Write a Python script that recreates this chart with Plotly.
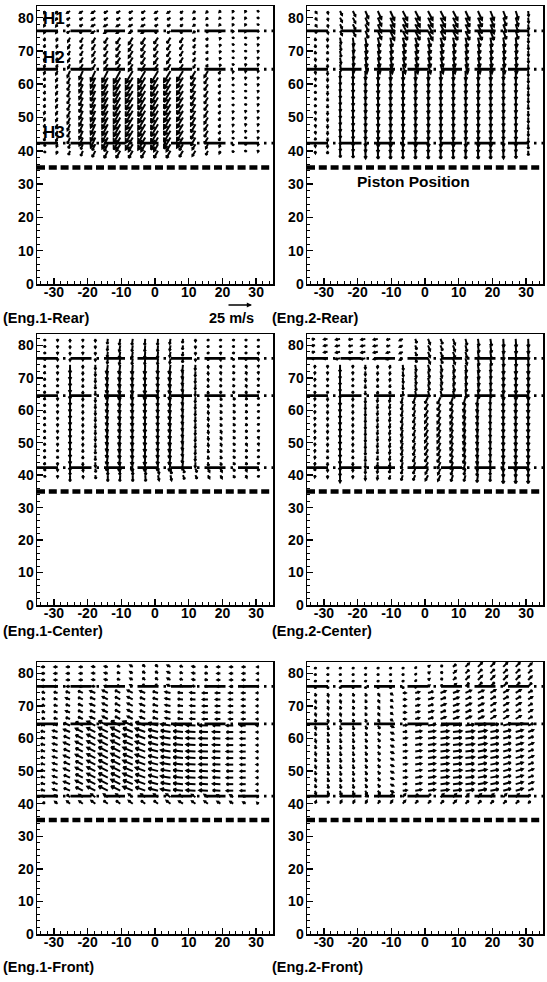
import math
import plotly.graph_objects as go

# ---------------- data ----------------
X_TICKS = [-30, -20, -10, 0, 10, 20, 30]
Y_TICKS = [0, 10, 20, 30, 40, 50, 60, 70, 80]
X_RANGE = [-35, 35]
Y_RANGE = [0, 83.5]

# measurement grid (mm)
COL_X = [-32.6, -28.9, -25.2, -21.4, -17.7, -14.0, -10.3, -6.6, -2.9,
         0.9, 4.6, 8.3, 12.0, 15.7, 19.4, 23.2, 26.9, 30.6]
ROW_Y = [40, 42, 44, 46, 48, 50, 52, 54, 56, 58, 60, 62, 64, 66, 68, 70,
         72, 74, 76, 78, 80, 82]
# lower bound of the four height bands (top band first)
BAND_LOWER = [76, 66, 44, 0]

H_LEVELS = [76.0, 64.5, 42.3]
H_NAMES = ["H1", "H2", "H3"]
H_LABEL_Y = [79.7, 68.0, 45.6]
PISTON_Y = 35.0
SCALE_MS = 25

PANEL_NAMES = ["(Eng.1-Rear)", "(Eng.2-Rear)", "(Eng.1-Center)",
               "(Eng.2-Center)", "(Eng.1-Front)", "(Eng.2-Front)"]

# velocity components (m/s), one list per band (top, upper, middle, bottom), one value per column
E1_REAR_U = [
    [-1, -1.5, -3, -3, -3.5, -3.5, -3.5, -3.5, -3.5, -3, -3, -2.5, -2, -1.5, -1, -0.5, -0.5, -0.3],
    [-1, -1, -2, -2.5, -3, -3.5, -4, -4, -4, -4, -3.5, -3, -2, -1.5, -0.5, -0.3, -0.2, -0.2],
    [-1, -1.5, -2.5, -3.5, -4.5, -5.5, -6.5, -7, -7, -7, -6.5, -6, -4.5, -3.5, -1.5, -0.3, -0.2, -0.2],
    [-0.5, -1, -1.5, -2, -3, -3.5, -4, -4, -4, -4, -4, -3.5, -3, -2, -1, -0.3, -0.2, -0.2]]
E1_REAR_V = [
    [-2, -2, -2, -2, -2, -2, -2, -2, -2, -2, -2, -2, -1.5, -1.5, -1, -1, -1, -1],
    [-3, -3, -4, -4.5, -5, -5.5, -6, -6.5, -6.5, -6, -5.5, -5, -3.5, -2.5, -1.5, -1, -1, -1],
    [-3, -3.5, -6, -8, -10, -11, -12, -12, -12, -12, -11, -10, -8, -6, -3, -1.5, -1, -1],
    [-2, -2.5, -4, -5, -6, -7, -7, -7, -7, -7, -7, -6, -5, -4, -2.5, -1.5, -1, -1]]

E2_REAR_U = [
    [1.5, 0.5, 2, 2.5, 3, 3.5, 4, 4.5, 4.5, 4.5, 4.5, 4.5, 4, 4, 3.5, 3, 2.5, 0.5],
    [0.5, 0, 1, 1, 1.5, 2, 2, 2.5, 2.5, 2.5, 2.5, 2, 2, 2, 1.5, 1.5, 1, 0.3],
    [0.5, 0, 0.3, 0.3, 0.3, 0.5, 0.5, 0.5, 0.5, 0.5, 0.5, 0.5, 0.5, 0.5, 0.5, 0.3, 0.3, 0.2],
    [0.3, 0, 0.3, 0.3, 0.3, 0.3, 0.3, 0.3, 0.3, 0.3, 0.3, 0.3, 0.3, 0.3, 0.3, 0.3, 0.3, 0.2]]
E2_REAR_V = [
    [-2, -2.5, -4, -5, -7, -8, -9, -9, -9, -9, -9, -9, -9, -9, -9, -8, -8, -5],
    [-3, -3, -6, -8, -9, -9, -9, -9, -9, -9, -9, -9, -9, -9, -9, -9, -9, -5],
    [-2.5, -3.5, -7, -8, -8.5, -9, -9, -9, -9, -9, -9, -9, -9, -9, -9, -8.5, -8.5, -5],
    [-2.5, -3, -6.5, -7, -7.5, -8, -8, -8, -8, -8, -8, -8, -8, -8, -8, -7.5, -7.5, -4.5]]

E1_CENTER_U = [
    [-0.5, 0, 0, 0, 0, -0.5, -1, -0.8, -0.5, -0.5, -0.8, -0.5, 0, 0.3, 0.3, 0.5, 0.5, 0.3],
    [-0.8, 0, 0, 0, 0, -1.2, -1.2, -0.8, -0.5, -0.5, -1.2, -0.8, -0.3, 0.3, 0.5, 0.8, 0.8, 0.3],
    [-0.8, 0, 0, 0, 0, -1.2, -1.2, -0.8, -0.5, -0.5, -1.2, -0.8, -0.3, 0.5, 1, 1.5, 1.2, 0.5],
    [-0.5, 0, 0, 0.3, 0.5, 0, -0.5, 0, 0.5, 1, 1, 1.5, 1.5, 1.5, 1.5, 1.5, 1, 0.5]]
E1_CENTER_V = [
    [-2, -2, -2.5, -2, -2.5, -5, -6, -6, -6, -6, -5, -4, -2.5, -2, -2, -2, -2, -2],
    [-2.5, -2.5, -8, -3, -4.5, -8.5, -9, -9, -9, -8.5, -9, -7, -5, -3, -2.5, -2.5, -2.5, -2],
    [-2.5, -2.5, -8, -3, -4.5, -8.5, -9, -9, -9, -8.5, -9, -7, -5, -3.5, -3, -2.5, -2.5, -2],
    [-2, -2, -6, -2.5, -3.5, -6, -6, -6, -6, -5, -5, -4, -3.5, -3, -3, -2.5, -2.5, -2]]

E2_CENTER_U = [
    [-3, -3.5, -4, -4, -4, -4, -3.5, -3, 1.5, 2, 2, 2, 1.5, 1, 1, 0.5, 0.5, 0.3],
    [-0.3, 0, 0, 0, 0, -0.3, -0.5, 0.5, 1, 1.5, 1.5, 1.5, 1, 1, 0.5, 0.3, 0.3, 0.2],
    [-0.3, 0, 0, 0, 0, -0.5, -0.8, -1.5, -2, -3, -3, -2.5, -2, -1, -0.3, 0, 0, 0],
    [-0.3, 0, 0, 0, 0, -0.5, -1, -1.5, -2, -2.5, -2.5, -2, -1.5, -1, -0.3, 0, 0, 0]]
E2_CENTER_V = [
    [-0.5, -0.5, -0.8, -0.8, -0.8, -0.8, -1, -1.5, -4, -5, -5, -5.5, -6, -7, -7, -8, -8, -8],
    [-2.5, -2.5, -7, -2.5, -4, -3, -3, -5, -6, -6, -6, -6.5, -7, -7.5, -7, -9, -9, -9],
    [-2.5, -3, -8, -3, -5.5, -4.5, -4.5, -6, -6, -6, -6.5, -7, -7.5, -8, -7, -9, -9, -9],
    [-2, -2.5, -7, -2.5, -4.5, -4, -4, -5, -5, -5, -5.5, -6, -6, -7, -6, -8, -8, -8]]

E1_FRONT_U = [
    [-3, -3, -3, -3, -3, -3, -3, -2.5, -2.5, -2.5, -3, -3, -3, -3, -3, -3, -3, -1],
    [-3, -3.5, -4, -4.5, -5, -5, -5, -5, -5, -5, -5, -5, -5, -5, -4.5, -4, -3.5, -1.5],
    [-4, -4.5, -6, -7, -8, -9, -9, -9.5, -9.5, -9.5, -9.5, -9.5, -9, -8.5, -7.5, -6.5, -5, -1.5],
    [-2, -2.5, -3, -3.5, -4, -4, -4, -4, -4, -4, -4, -4, -3.5, -3.5, -3, -3, -2.5, -1]]
E1_FRONT_V = [
    [0, 0, 0, 0, 0.3, 0.5, 1, 1.5, 2, 2, 1.5, 1, 0.5, 0.3, 0, 0, 0, 0],
    [1, 1, 1.5, 2, 2, 2.5, 2.5, 2.5, 2, 1.5, 1, 0.5, 0.3, 0, 0, 0, 0, 0],
    [1, 1.5, 2.5, 3.5, 4, 4.5, 4.5, 4, 3.5, 2.5, 1.5, 1, 0.5, 0.3, 0.3, 0, 0, 0],
    [1.5, 2, 2.5, 2.5, 3, 3, 3, 3, 3, 3, 3, 2.5, 2.5, 2.5, 2, 2, 1.5, 1]]

E2_FRONT_U = [
    [0.5, 0.5, 0.5, 0.5, 0.5, 0.5, 0.5, 0.5, 1, 1.5, 2, 3, 3.5, 4, 4, 4, 4, 3.5],
    [0.8, 0.8, 0.8, 1, 1, 1.5, 2, 3, 4, 5, 5, 5.5, 5.5, 5.5, 5, 5, 5, 4],
    [0.8, 1, 1, 1, 1.5, 2, 3, 4, 6, 7, 8, 8.5, 8.5, 8.5, 8, 7.5, 7, 5],
    [1, 1, 1.5, 1.5, 1.5, 2, 2, 2.5, 2.5, 2.5, 3, 3, 3, 3, 3, 3, 3, 2]]
E2_FRONT_V = [
    [-2, -2, -2, -2, -2, -2, -2, -2, -1.5, 1, 1.5, 2.5, 3.5, 4, 4, 4, 4, 3.5],
    [-3, -3, -3, -3, -3, -2.5, -1.5, 0, 1, 1.5, 2, 2, 2.5, 2.5, 3, 3, 3, 2.5],
    [-3.5, -4, -4, -4, -3.5, -3, -1.5, 0.5, 1, 1, 1, 1, 1, 1.5, 1.5, 2, 2, 2],
    [2.5, 2.5, 3, 3, 3, 3, 3, 3, 3, 3, 3, 3, 3, 3, 3, 3, 3, 2.5]]

PANEL_U = [E1_REAR_U, E2_REAR_U, E1_CENTER_U, E2_CENTER_U, E1_FRONT_U, E2_FRONT_U]
PANEL_V = [E1_REAR_V, E2_REAR_V, E1_CENTER_V, E2_CENTER_V, E1_FRONT_V, E2_FRONT_V]

# ---------------- layout geometry (pixels) ----------------
FIG_W, FIG_H = 547, 982
COL_LEFT_PX = [37, 307]
PANEL_W_PX = 236
ROW_TOP_PX = [6, 334, 662]
ROW_BOT_PX = [284, 605, 934]
LABEL_Y_PX = [318, 631, 967]
PX_PER_MS = 1.0
FONT = "Liberation Sans"


def px2paper_x(px):
    return px / FIG_W


def px2paper_y(py):
    return 1 - py / FIG_H


def band_of(y):
    for i, lo in enumerate(BAND_LOWER):
        if y >= lo:
            return i
    return len(BAND_LOWER) - 1


def bold(s):
    return "<b>" + s + "</b>"


def vector_paths(U, V, ppx, ppy):
    xs, ys = [], []
    for y0 in ROW_Y:
        b = band_of(y0)
        for c, x0 in enumerate(COL_X):
            u = U[b][c] * PX_PER_MS
            v = V[b][c] * PX_PER_MS
            L = math.hypot(u, v)
            x1 = x0 + u / ppx
            y1 = y0 + v / ppy
            xs += [x0, x1, None]
            ys += [y0, y1, None]
            if L > 0.8:
                h = max(2.0, 0.35 * L)
                ang = math.atan2(v, u)
                pts = []
                for s in (1, -1):
                    a = ang + math.pi + s * math.radians(30)
                    pts.append((x1 + h * math.cos(a) / ppx, y1 + h * math.sin(a) / ppy))
                xs += [pts[0][0], x1, pts[1][0], None]
                ys += [pts[0][1], y1, pts[1][1], None]
    return xs, ys


fig = go.Figure()
layout = dict(
    width=FIG_W, height=FIG_H, margin=dict(l=0, r=0, t=0, b=0),
    paper_bgcolor="white", plot_bgcolor="white", showlegend=False,
    font=dict(family=FONT, color="black"),
)
annotations = []

for p in range(6):
    row, col = divmod(p, 2)
    idx = "" if p == 0 else str(p + 1)
    xa, ya = "x" + idx, "y" + idx
    left = COL_LEFT_PX[col]
    top, bot = ROW_TOP_PX[row], ROW_BOT_PX[row]
    ppx = PANEL_W_PX / (X_RANGE[1] - X_RANGE[0])
    ppy = (bot - top) / (Y_RANGE[1] - Y_RANGE[0])

    common = dict(
        showline=True, linecolor="black", linewidth=1.5, mirror=True,
        ticks="inside", ticklen=6, tickwidth=1.5, tickcolor="black",
        showgrid=False, zeroline=False, tickmode="array", automargin=False,
        tickfont=dict(family=FONT, size=14, color="black"),
        minor=dict(ticks="inside", ticklen=3, tickwidth=1, tickmode="linear", tick0=0, dtick=2,
                   tickcolor="black", showgrid=False),
        fixedrange=True,
    )
    layout["xaxis" + idx] = dict(common, domain=[px2paper_x(left), px2paper_x(left + PANEL_W_PX)],
                                 range=X_RANGE, tickvals=X_TICKS,
                                 ticktext=[bold(str(t)) for t in X_TICKS],
                                 anchor=ya, ticklabelstandoff=-5)
    layout["yaxis" + idx] = dict(common, domain=[px2paper_y(bot), px2paper_y(top)],
                                 range=Y_RANGE, tickvals=Y_TICKS,
                                 ticktext=[bold(str(t)) for t in Y_TICKS],
                                 anchor=xa, ticklabelstandoff=-1)

    # H1/H2/H3 dash-dot levels
    hx, hy = [], []
    for h in H_LEVELS:
        hx += [X_RANGE[0], X_RANGE[1], None]
        hy += [h, h, None]
    fig.add_trace(go.Scatter(x=hx, y=hy, mode="lines", xaxis=xa, yaxis=ya,
                             line=dict(color="black", width=2.8, dash="21px,5px,2.5px,5px"),
                             hoverinfo="skip"))
    # piston position
    fig.add_trace(go.Scatter(x=[X_RANGE[0], X_RANGE[1]], y=[PISTON_Y, PISTON_Y], mode="lines",
                             xaxis=xa, yaxis=ya,
                             line=dict(color="black", width=4.5, dash="8px,3.8px"),
                             hoverinfo="skip"))
    # vectors
    vx, vy = vector_paths(PANEL_U[p], PANEL_V[p], ppx, ppy)
    fig.add_trace(go.Scatter(x=vx, y=vy, mode="lines", xaxis=xa, yaxis=ya,
                             line=dict(color="black", width=2.0), hoverinfo="skip"))

    # panel label
    annotations.append(dict(text=bold(PANEL_NAMES[p]), xref="paper", yref="paper",
                            x=px2paper_x(1 if col == 0 else 270), y=px2paper_y(LABEL_Y_PX[row]),
                            xanchor="left", yanchor="middle", showarrow=False,
                            font=dict(family=FONT, size=14.5, color="black")))

# H labels in first panel
for name, yl in zip(H_NAMES, H_LABEL_Y):
    annotations.append(dict(text=bold(name), xref="x", yref="y", x=-33.8, y=yl,
                            xanchor="left", yanchor="middle", showarrow=False,
                            font=dict(family=FONT, size=17, color="black")))

# Piston Position label
annotations.append(dict(text=bold("Piston Position"), xref="x2", yref="y2", x=-3.5, y=30.8,
                        xanchor="center", yanchor="middle", showarrow=False,
                        font=dict(family=FONT, size=15.5, color="black")))

# velocity scale
annotations.append(dict(text="", xref="paper", yref="paper",
                        x=px2paper_x(252), y=px2paper_y(305),
                        ax=-SCALE_MS * PX_PER_MS, ay=0, axref="pixel", ayref="pixel",
                        showarrow=True, arrowhead=2, arrowsize=0.8, arrowwidth=1.3,
                        arrowcolor="black"))
annotations.append(dict(text=bold(f"{SCALE_MS} m/s"), xref="paper", yref="paper",
                        x=px2paper_x(232), y=px2paper_y(LABEL_Y_PX[0]), xanchor="center",
                        yanchor="middle", showarrow=False,
                        font=dict(family=FONT, size=14.5, color="black")))

layout["annotations"] = annotations
fig.update_layout(**layout)
fig.write_html(
    "out.html",
    config={"displayModeBar": False, "staticPlot": True},
    post_script=("document.documentElement.style.margin='0px';"
                 "document.body.style.margin='0px';"
                 "document.body.style.height='982px';"
                 "document.body.style.overflow='hidden';"
                 "document.documentElement.style.overflow='hidden';"),
)
